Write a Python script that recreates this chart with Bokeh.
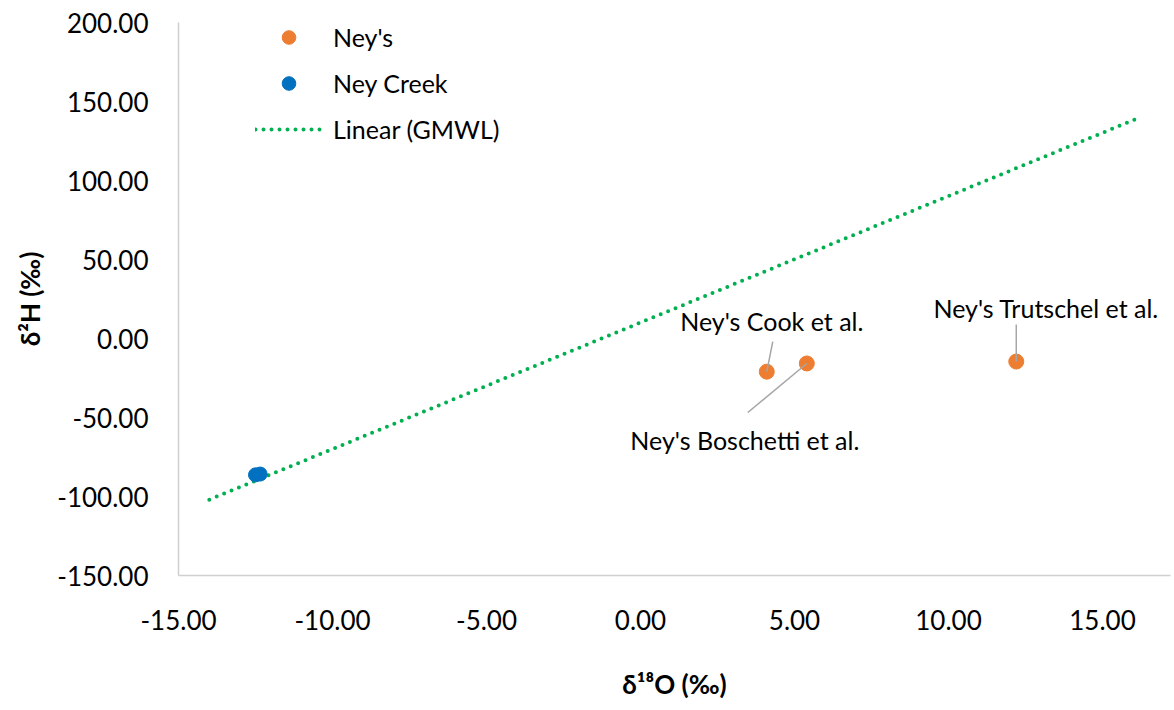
from bokeh.plotting import figure
from bokeh.models import Range1d, FixedTicker, PrintfTickFormatter, Legend, LegendItem
from bokeh.core.properties import value
from bokeh.embed import file_html
from bokeh.resources import INLINE

# ---- data ----
neys_labels = ["Ney's Cook et al.", "Ney's Boschetti et al.", "Ney's Trutschel et al."]
neys_d18o = [4.1, 5.4, 12.2]
neys_d2h = [-21.0, -15.8, -14.6]
creek_d18o = [-12.5, -12.35]
creek_d2h = [-86.3, -85.8]
gmwl_d18o = [-14.0, 16.1]
gmwl_d2h = [-102.0, 139.0]
x_ticks = [-15, -10, -5, 0, 5, 10, 15]
y_ticks = [-150, -100, -50, 0, 50, 100, 150, 200]

# ---- layout / style ----
FONT = "Lato"
FW, FH = 992, 553
X0, X1 = -15.0, -15.0 + 992 / 30.8
Y0, Y1 = -150.0, 200.0
pxx = FW / (X1 - X0)
pxy = FH / (Y1 - Y0)

# label placement offsets in screen px (right, up) relative to each point
label_dx = [5, -62, 30]
label_dy = [51, -77, 54]
leader_dx = [6, -59, 0]
leader_dy = [30, -49, 37]

p = figure(frame_width=FW, frame_height=FH, output_backend="svg", toolbar_location=None,
           x_range=Range1d(X0, X1), y_range=Range1d(Y0, Y1),
           min_border_left=178, min_border_right=2, min_border_top=22, min_border_bottom=133)
p.outline_line_color = None
p.background_fill_color = "white"
p.border_fill_color = "white"
p.grid.visible = False

for ax in (p.xaxis[0], p.yaxis[0]):
    ax.axis_line_color = "#D0D0D0"
    ax.axis_line_width = 1.5
    ax.major_tick_line_color = None
    ax.minor_tick_line_color = None
    ax.major_label_text_font = FONT
    ax.major_label_text_font_size = "26px"
    ax.major_label_text_color = "#000000"
    ax.axis_label_text_font = FONT
    ax.axis_label_text_font_size = "26px"
    ax.axis_label_text_font_style = "bold"
    ax.axis_label_text_color = "#000000"
    ax.formatter = PrintfTickFormatter(format="%.2f")

p.xaxis.ticker = FixedTicker(ticks=x_ticks)
p.yaxis.ticker = FixedTicker(ticks=y_ticks)
p.xaxis.axis_label = "δ¹⁸O (‰)"
p.yaxis.axis_label = "δ²H (‰)"
p.xaxis.major_label_standoff = 28
p.xaxis.axis_label_standoff = 35
p.yaxis.major_label_standoff = 24
p.yaxis.axis_label_standoff = 8

gm = p.line(gmwl_d18o, gmwl_d2h, line_color="#00B050", line_width=4, line_dash="0 8", line_cap="round")
r_neys = p.scatter(neys_d18o, neys_d2h, size=15, fill_color="#ED7D31", line_color="#ED7D31")
r_creek = p.scatter(creek_d18o, creek_d2h, size=14, fill_color="#0070C0", line_color="#0070C0")

# leader lines
x0s, y0s, x1s, y1s = [], [], [], []
for i in range(len(neys_d18o)):
    x0s.append(neys_d18o[i]); y0s.append(neys_d2h[i])
    x1s.append(neys_d18o[i] + leader_dx[i] / pxx)
    y1s.append(neys_d2h[i] + leader_dy[i] / pxy)
p.segment(x0s, y0s, x1s, y1s, line_color="#A6A6A6", line_width=1.5)

lx = [neys_d18o[i] + label_dx[i] / pxx for i in range(3)]
ly = [neys_d2h[i] + label_dy[i] / pxy for i in range(3)]
p.text(lx, ly, text=neys_labels, text_align="center", text_baseline="alphabetic",
       text_font=value(FONT), text_font_size="25px", text_color="#000000")

legend = Legend(items=[LegendItem(label="Ney's", renderers=[r_neys]),
                       LegendItem(label="Ney Creek", renderers=[r_creek]),
                       LegendItem(label="Linear (GMWL)", renderers=[gm])],
                location=(77, 429), orientation="vertical",
                glyph_width=67, glyph_height=34, label_height=34, spacing=12,
                padding=0, margin=0, label_standoff=11,
                label_text_font=FONT, label_text_font_size="25px", label_text_color="#000000",
                border_line_color=None, background_fill_alpha=0)
p.add_layout(legend)

open("out.html", "w").write(file_html(p, INLINE))
